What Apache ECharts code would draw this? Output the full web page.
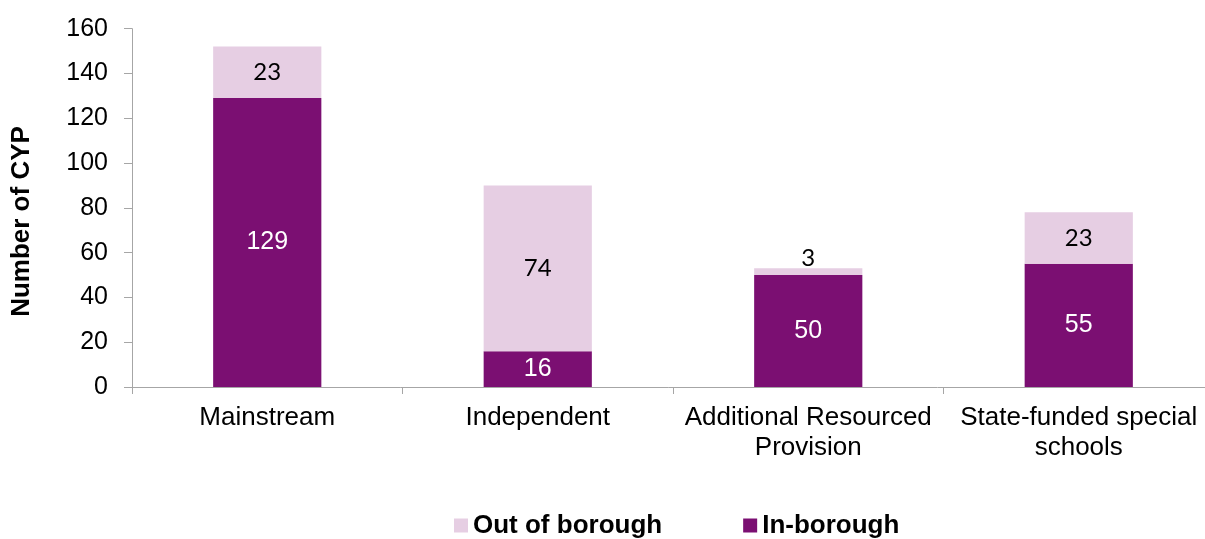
<!DOCTYPE html>
<html>
<head>
<meta charset="utf-8">
<script src="https://cdn.jsdelivr.net/npm/echarts@6/dist/echarts.min.js"></script>
<style>
  html, body { margin: 0; padding: 0; background: #ffffff; overflow: hidden; }
  #chart { width: 1205px; height: 539px; }
</style>
</head>
<body>
<div id="chart"></div>
<script>
// Placement of children and young people by provision type
const categories = ['Mainstream', 'Independent', 'Additional Resourced\nProvision', 'State-funded special\nschools'];
const inBorough = [129, 16, 50, 55];
const outOfBorough = [23, 74, 3, 23];
const yTicks = { min: 0, max: 160, interval: 20 };
const yTitle = 'Number of CYP';

const DARK = '#7b0f72';
const LIGHT = '#e6cee3';
const AXIS = '#a6a6a6';
const FONT = 'Liberation Sans';

const chart = echarts.init(document.getElementById('chart'), null, { renderer: 'canvas' });

chart.setOption({
  animation: false,
  backgroundColor: '#ffffff',
  grid: { left: 132, width: 1082, top: 28.7, bottom: 152, containLabel: false, outerBoundsMode: 'none' },
  legend: {
    top: 507.5,
    left: 449,
    itemWidth: 14,
    itemHeight: 14,
    itemGap: 81,
    icon: 'rect',
    data: ['Out of borough', 'In-borough'],
    textStyle: { fontFamily: FONT, fontSize: 26, fontWeight: 'bold', color: '#000000' }
  },
  graphic: [{
    type: 'text',
    x: 22,
    y: 221.5,
    rotation: Math.PI / 2,
    style: {
      text: yTitle,
      fontFamily: FONT,
      fontSize: 26,
      fontWeight: 'bold',
      fill: '#000000',
      align: 'center',
      verticalAlign: 'middle'
    }
  }],
  xAxis: {
    type: 'category',
    data: categories,
    axisLine: { lineStyle: { color: AXIS, width: 1 } },
    axisTick: { show: true, length: 7, lineStyle: { color: AXIS } },
    axisLabel: {
      interval: 0,
      margin: 16,
      fontFamily: FONT,
      fontSize: 26,
      lineHeight: 30,
      color: '#000000'
    }
  },
  yAxis: {
    type: 'value',
    min: yTicks.min,
    max: yTicks.max,
    interval: yTicks.interval,
    axisLine: { show: true, lineStyle: { color: AXIS, width: 1 } },
    axisTick: { show: true, length: 8, lineStyle: { color: AXIS } },
    splitLine: { show: false },
    axisLabel: { margin: 24, fontFamily: FONT, fontSize: 25, color: '#000000' }
  },
  series: [
    {
      name: 'In-borough',
      type: 'bar',
      stack: 'total',
      barWidth: '40%',
      data: inBorough,
      itemStyle: { color: DARK },
      label: {
        show: true,
        position: 'inside',
        fontFamily: FONT,
        fontSize: 25,
        color: '#ffffff'
      }
    },
    {
      name: 'Out of borough',
      type: 'bar',
      stack: 'total',
      barWidth: '40%',
      data: outOfBorough.map(v => ({
        value: v,
        label: v < 8 ? { position: 'top', distance: -2 } : {}
      })),
      itemStyle: { color: LIGHT },
      label: {
        show: true,
        position: 'inside',
        fontFamily: 'Lato',
        fontSize: 24,
        color: '#000000'
      }
    }
  ]
});
</script>
</body>
</html>
